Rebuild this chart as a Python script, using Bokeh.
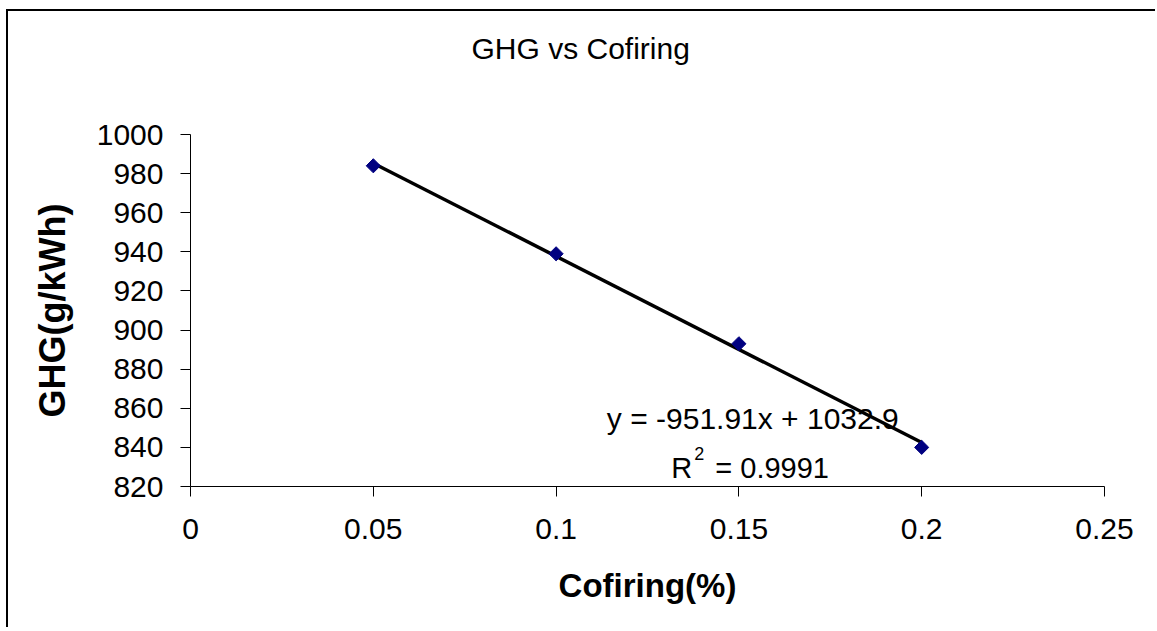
from bokeh.plotting import figure
from bokeh.models import Range1d, FixedTicker, NumeralTickFormatter, Label, ColumnDataSource, Title
from bokeh.embed import file_html
from bokeh.resources import INLINE
import math

# ---- data ----
cofiring = [0.05, 0.10, 0.15, 0.20]
ghg = [984.0, 939.0, 893.0, 840.0]

fit_slope = -951.91
fit_intercept = 1032.9
fit_r2 = 0.9991

x_ticks = [0, 0.05, 0.10, 0.15, 0.20, 0.25]
y_ticks = [820, 840, 860, 880, 900, 920, 940, 960, 980, 1000]

title_text = "GHG vs Cofiring"
x_label = "Cofiring(%)"
y_label = "GHG(g/kWh)"

FONT = "Liberation Sans"

p = figure(width=1149, height=618, output_backend="svg", toolbar_location=None,
           x_range=Range1d(0, 0.25), y_range=Range1d(820, 1000),
           min_border_left=182, min_border_right=53, min_border_top=123, min_border_bottom=143)
p.styles = {"border-top": "2px solid black", "border-left": "2px solid black",
            "margin-left": "6px", "margin-top": "9px"}
p.outline_line_color = None
p.xgrid.grid_line_color = None
p.ygrid.grid_line_color = None
p.background_fill_color = "white"
p.border_fill_color = "white"

# real title (outermost) and a blank spacer title between it and the frame
p.title.text = title_text
p.title.align = "left"
p.title.offset = 281
p.title.standoff = 0
p.title.text_font = FONT
p.title.text_font_size = "30px"
p.title.text_font_style = "normal"
p.title.text_color = "black"
spacer = Title(text=" ", standoff=35, text_font=FONT, text_font_size="30px")
p.add_layout(spacer, "above")

for ax in (p.xaxis[0], p.yaxis[0]):
    ax.axis_line_color = "black"
    ax.axis_line_width = 1
    ax.major_tick_line_color = "black"
    ax.major_tick_out = 10
    ax.major_tick_in = 0
    ax.minor_tick_line_color = None
    ax.major_label_text_font = FONT
    ax.major_label_text_font_size = "30px"
    ax.major_label_text_color = "black"
    ax.axis_label_text_font = FONT
    ax.axis_label_text_font_style = "bold"
    ax.axis_label_text_color = "black"

p.xaxis.axis_label_text_font_size = "33px"
p.yaxis.axis_label_text_font_size = "36px"
p.xaxis.ticker = FixedTicker(ticks=x_ticks)
p.yaxis.ticker = FixedTicker(ticks=y_ticks)
p.xaxis.formatter = NumeralTickFormatter(format="0.[00]")
p.xaxis.axis_label = x_label
p.yaxis.axis_label = y_label
p.xaxis.major_label_standoff = 22
p.yaxis.major_label_standoff = 17
p.xaxis.axis_label_standoff = 25
p.yaxis.axis_label_standoff = 21

# trendline from displayed fit
fit_x = [cofiring[0], cofiring[-1]]
fit_y = [fit_slope * x + fit_intercept for x in fit_x]
p.line(fit_x, fit_y, line_color="black", line_width=3.5)

src = ColumnDataSource(dict(x=cofiring, y=ghg))
p.scatter("x", "y", source=src, marker="square", size=10, angle=math.pi / 4,
          fill_color="#000080", line_color="#000080")

# equation
eq_text = "y = %.2fx + %.1f" % (fit_slope, fit_intercept)
p.add_layout(Label(x=0.1538, y=855, text=eq_text, text_align="center",
                   text_baseline="alphabetic", text_font=FONT, text_font_size="30px",
                   text_color="black"))
r_x, r_y = 0.1315, 829.5
p.add_layout(Label(x=r_x, y=r_y, text="R", text_align="left",
                   text_baseline="alphabetic", text_font=FONT, text_font_size="29px",
                   text_color="black"))
p.add_layout(Label(x=r_x, y=r_y, x_offset=23, y_offset=14, text="2", text_align="left",
                   text_baseline="alphabetic", text_font=FONT, text_font_size="18px",
                   text_color="black"))
p.add_layout(Label(x=r_x, y=r_y, x_offset=44, text="= %.4f" % fit_r2, text_align="left",
                   text_baseline="alphabetic", text_font=FONT, text_font_size="29px",
                   text_color="black"))

open("out.html", "w").write(file_html(p, INLINE))
